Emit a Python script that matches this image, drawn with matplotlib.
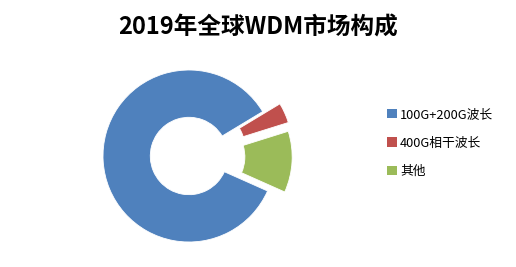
import matplotlib.pyplot as plt
from matplotlib.patches import Patch

plt.rcParams['font.family'] = ['Noto Sans CJK SC', 'DejaVu Sans']

labels  = ['100G+200G波长', '400G相干波长', '其他']
shares  = [84.7, 3.8, 11.5]
colors  = ['#4F81BD', '#C0504D', '#9BBB59']
explode = [0, 0.22, 0.2]

W, H = 516, 267
fig = plt.figure(figsize=(W / 100, H / 100), dpi=100)

# pie centre (189,156) px, radius 86 px
R_PX, L = 86, 1.3
cx, cy = 189, H - 156
side = 2 * L * R_PX
ax = fig.add_axes([(cx - side / 2) / W, (cy - side / 2) / H, side / W, side / H])
ax.pie(shares, colors=colors, explode=explode, startangle=336, counterclock=False,
       radius=1, wedgeprops=dict(width=0.55, edgecolor='white', linewidth=0.6))
ax.set_xlim(-L, L)
ax.set_ylim(-L, L)
ax.set_aspect('equal')
ax.axis('off')

fig.text(0.5, 1 - 28 / H, '2019年全球WDM市场构成', ha='center', va='center',
         fontsize=17, fontweight='bold')

handles = [Patch(facecolor=c, edgecolor='none') for c in colors]
fig.legend(handles, labels, loc='upper left', bbox_to_anchor=(382 / W, 1 - 103 / H),
           frameon=False, fontsize=9.2, handlelength=0.75, handleheight=0.75,
           handletextpad=0.25, labelspacing=1.2, borderaxespad=0)

fig.savefig('out.png', dpi=100)
